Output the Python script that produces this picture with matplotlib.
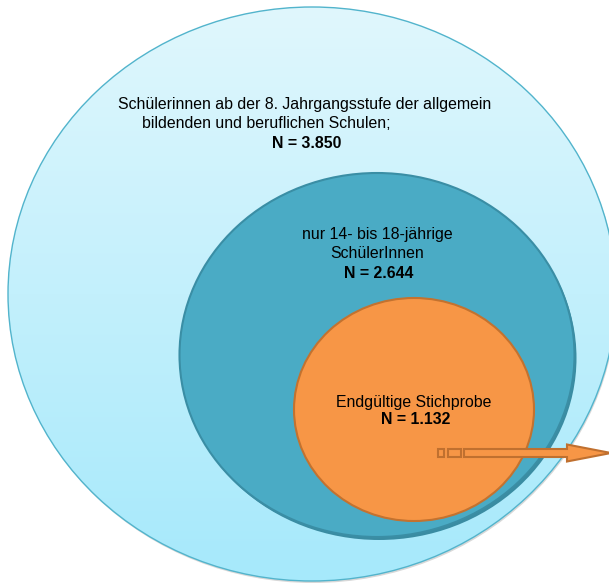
import numpy as np
import matplotlib.pyplot as plt
from matplotlib.patches import Ellipse, FancyArrow, Rectangle
from matplotlib.colors import LinearSegmentedColormap

plt.rcParams['font.family'] = ['Liberation Sans', 'DejaVu Sans']

# text of the three nested groups
outer_lines = ['Schülerinnen ab der 8. Jahrgangsstufe der allgemein',
               'bildenden und beruflichen Schulen;']
middle_lines = ['nur 14- bis 18-jährige', 'SchülerInnen']
inner_lines = ['Endgültige Stichprobe']
counts = ['N = 3.850', 'N = 2.644', 'N = 1.132']

W, H = 609, 584
fig = plt.figure(figsize=(W/100, H/100), dpi=100)
ax = fig.add_axes([0, 0, 1, 1])
ax.set_xlim(0, W)
ax.set_ylim(H, 0)
ax.axis('off')

# outer ellipse, soft shadow + vertical gradient
ax.add_patch(Ellipse((313, 296), 608, 574, facecolor='#d8d8d8', edgecolor='none', zorder=0))
outer = Ellipse((312, 294), 608, 574, facecolor='none', edgecolor='#52b4cc', lw=1.0, zorder=3)
ax.add_patch(outer)
cmap = LinearSegmentedColormap.from_list('sky', ['#e0f7fd', '#a6e9fb'])
grad = np.linspace(0, 1, 256).reshape(-1, 1)
im = ax.imshow(grad, cmap=cmap, extent=(0, W, 581, 7), aspect='auto', zorder=1)
im.set_clip_path(outer)

# middle ellipse with shadow
ax.add_patch(Ellipse((379, 358), 395, 364, facecolor='#3a8ca2', edgecolor='none', zorder=3))
ax.add_patch(Ellipse((377, 355), 395, 364, facecolor='#4aabc5', edgecolor='#3a8ea5', lw=1.5, zorder=4))

# inner ellipse
ax.add_patch(Ellipse((414, 409.5), 240, 223, facecolor='#f79646', edgecolor='#c3722f', lw=1.5, zorder=5))

# arrow with leading dashes
oc, ec = '#f79646', '#c0702f'
ax.add_patch(Rectangle((438, 449), 6, 8, facecolor=oc, edgecolor=ec, lw=1.5, zorder=6))
ax.add_patch(Rectangle((448, 449), 13, 8, facecolor=oc, edgecolor=ec, lw=1.5, zorder=6))
ax.add_patch(FancyArrow(464, 453, 147, 0, width=8, head_width=17, head_length=44,
                        length_includes_head=True, facecolor=oc, edgecolor=ec, lw=1.5, zorder=6))

fs = 11.4
ax.text(305, 105, outer_lines[0], ha='center', va='center', fontsize=fs, zorder=7)
ax.text(266, 124, outer_lines[1], ha='center', va='center', fontsize=fs, zorder=7)
ax.text(307, 143, counts[0], ha='center', va='center', fontsize=fs, fontweight='bold', zorder=7)
ax.text(377, 234, middle_lines[0], ha='center', va='center', fontsize=fs, zorder=7)
ax.text(377, 254, middle_lines[1], ha='center', va='center', fontsize=fs, zorder=7)
ax.text(379, 273, counts[1], ha='center', va='center', fontsize=fs, fontweight='bold', zorder=7)
ax.text(414, 402, inner_lines[0], ha='center', va='center', fontsize=fs, zorder=7)
ax.text(416, 420, counts[2], ha='center', va='center', fontsize=fs, fontweight='bold', zorder=7)

fig.savefig('out.png', dpi=100)
